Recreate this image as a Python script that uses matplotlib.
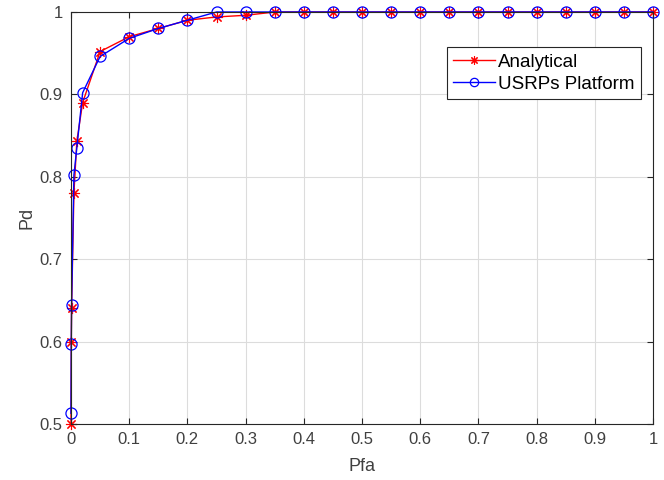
import numpy as np
import matplotlib.pyplot as plt

plt.rcParams['font.family'] = ['Liberation Sans', 'DejaVu Sans']

pfa = [0, 0.0005, 0.001, 0.005, 0.01, 0.02, 0.05, 0.1, 0.15, 0.2, 0.25, 0.3,
       0.35, 0.4, 0.45, 0.5, 0.55, 0.6, 0.65, 0.7, 0.75, 0.8, 0.85, 0.9, 0.95, 1.0]
pd_analytical = [0.5, 0.6, 0.641, 0.78, 0.843, 0.89, 0.952, 0.97, 0.98, 0.99, 0.994, 0.996,
                 1, 1, 1, 1, 1, 1, 1, 1, 1, 1, 1, 1, 1, 1]
pd_usrp = [0.513, 0.597, 0.645, 0.802, 0.835, 0.902, 0.946, 0.968, 0.98, 0.99, 1.0, 1.0,
           1, 1, 1, 1, 1, 1, 1, 1, 1, 1, 1, 1, 1, 1]

fig = plt.figure(figsize=(6.64, 4.8), dpi=100)
ax = fig.add_axes([71/664, 1-424/480, 582/664, 412/480])

ax.plot(pfa, pd_analytical, color='r', marker=(8, 2, 0), markersize=8, markeredgewidth=0.8,
        linewidth=1, label='Analytical', clip_on=False)
ax.plot(pfa, pd_usrp, color='b', marker='o', markersize=8, markerfacecolor='none',
        markeredgewidth=0.9, linewidth=1, label='USRPs Platform', clip_on=False)

ax.set_xlim(0, 1)
ax.set_ylim(0.5, 1)
ax.set_xticks(np.arange(0, 1.01, 0.1))
ax.set_xticklabels(['0', '0.1', '0.2', '0.3', '0.4', '0.5', '0.6', '0.7', '0.8', '0.9', '1'])
ax.set_yticks(np.arange(0.5, 1.01, 0.1))
ax.set_yticklabels(['0.5', '0.6', '0.7', '0.8', '0.9', '1'])
ax.grid(True, color='#dcdcdc', linewidth=0.8)
ax.set_axisbelow(True)
ax.tick_params(direction='in', top=True, right=True, labelsize=12, color='#262626',
               labelcolor='#404040', length=4, pad=6)
for s in ax.spines.values():
    s.set_color('#262626')
    s.set_linewidth(0.8)

ax.set_xlabel('Pfa', fontsize=13, color='#404040', labelpad=8)
ax.set_ylabel('Pd', fontsize=13, color='#404040', labelpad=3)

leg = ax.legend(loc='upper right', bbox_to_anchor=(0.98, 0.915), borderaxespad=0,
                fontsize=13.5, fancybox=False, edgecolor='#262626', framealpha=1,
                handlelength=2.2, handletextpad=0.2, borderpad=0.35, labelspacing=0.25,
                markerscale=0.75)
leg.get_frame().set_linewidth(0.8)

plt.savefig('out.png', dpi=100)
